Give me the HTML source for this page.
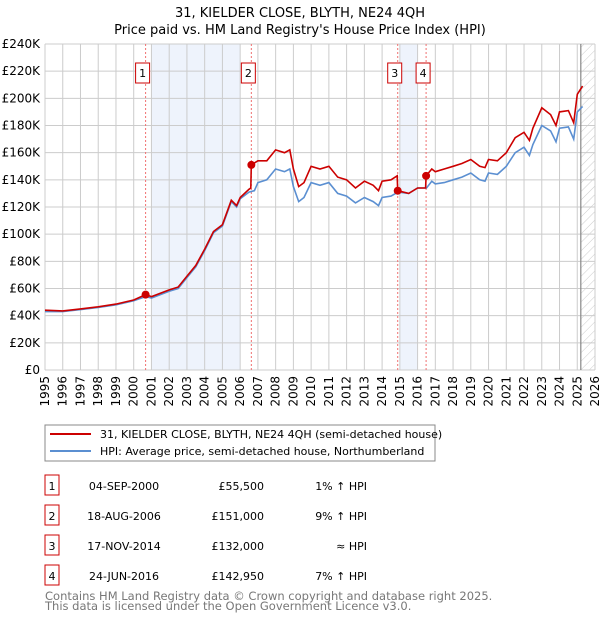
<!DOCTYPE html>
<html><head><meta charset="utf-8"><style>
body{margin:0;background:#fff;font-family:"DejaVu Sans","Liberation Sans",sans-serif;}
svg text{font-family:"DejaVu Sans","Liberation Sans",sans-serif;}
</style></head><body>
<svg id="c" width="600" height="620" xmlns="http://www.w3.org/2000/svg">
<defs><pattern id="hatch" width="6" height="6" patternUnits="userSpaceOnUse" patternTransform="rotate(45)"><line x1="0" y1="0" x2="0" y2="6" stroke="#ccc" stroke-width="1"/></pattern></defs>
<text x="300" y="17" text-anchor="middle" font-size="13">31, KIELDER CLOSE, BLYTH, NE24 4QH</text>
<text x="300" y="34" text-anchor="middle" font-size="13">Price paid vs. HM Land Registry's House Price Index (HPI)</text>
<g id="plot"></g>
<rect x="45" y="425" width="390" height="36" fill="#fff" stroke="#888"/>
<line x1="50" y1="434" x2="91" y2="434" stroke="#cc0000" stroke-width="2"/>
<text x="100" y="438" font-size="11">31, KIELDER CLOSE, BLYTH, NE24 4QH (semi-detached house)</text>
<line x1="50" y1="451" x2="91" y2="451" stroke="#5b8fd1" stroke-width="2"/>
<text x="100" y="455" font-size="11">HPI: Average price, semi-detached house, Northumberland</text>
<g id="table"></g>
<text x="45" y="600" font-size="11.5" fill="#777">Contains HM Land Registry data © Crown copyright and database right 2025.</text>
<text x="45" y="610" font-size="11.5" fill="#777">This data is licensed under the Open Government Licence v3.0.</text>
</svg>
<script>
const yTicks=[0,20,40,60,80,100,120,140,160,180,200,220,240];
const years=[1995,1996,1997,1998,1999,2000,2001,2002,2003,2004,2005,2006,2007,2008,2009,2010,2011,2012,2013,2014,2015,2016,2017,2018,2019,2020,2021,2022,2023,2024,2025,2026];
const hpiT=[1995,1996,1997,1998,1999,2000,2000.67,2001,2002,2002.5,2003,2003.5,2004,2004.5,2005,2005.5,2005.8,2006,2006.5,2006.8,2007,2007.5,2008,2008.5,2008.8,2009,2009.3,2009.6,2010,2010.5,2011,2011.5,2012,2012.5,2013,2013.5,2013.8,2014,2014.5,2014.9,2015.5,2016,2016.5,2016.8,2017,2017.5,2018,2018.5,2019,2019.5,2019.8,2020,2020.5,2021,2021.5,2022,2022.3,2022.5,2023,2023.5,2023.8,2024,2024.5,2024.8,2025,2025.3];
const hpiV=[43,43,44.5,46,48,51,54,53,58,60,68,76,88,101,106,124,120,126,131,132,138,140,148,146,148,135,124,127,138,136,138,130,128,123,127,124,121,127,128,131,130,134,134,139,137,138,140,142,145,140,139,145,144,150,160,164,158,166,180,176,168,178,179,170,190,194];
const propT=[1995,1996,1997,1998,1999,2000,2000.67,2001,2002,2002.5,2003,2003.5,2004,2004.5,2005,2005.5,2005.8,2006,2006.5,2006.6,2006.63,2007,2007.5,2008,2008.5,2008.8,2009,2009.3,2009.6,2010,2010.5,2011,2011.5,2012,2012.5,2013,2013.5,2013.8,2014,2014.5,2014.85,2014.88,2015.5,2016,2016.45,2016.48,2016.8,2017,2017.5,2018,2018.5,2019,2019.5,2019.8,2020,2020.5,2021,2021.5,2022,2022.3,2022.5,2023,2023.5,2023.8,2024,2024.5,2024.8,2025,2025.3];
const propV=[44,43.5,45,46.5,48.5,51.5,55.5,54,59,61,69,77,89,102,107,125,121,127,133,134,151,154,154,162,160,162,148,135,138,150,148,150,142,140,134,139,136,132,139,140,143,132,130,134,134,143,148,146,148,150,152,155,150,149,155,154,160,171,175,169,178,193,188,180,190,191,182,203,209];
const saleLabels=["1","2","3","4"];
const saleT=[2000.67,2006.63,2014.88,2016.48];
const saleV=[55.5,151,132,142.95];
const saleDates=["04-SEP-2000","18-AUG-2006","17-NOV-2014","24-JUN-2016"];
const salePrices=["£55,500","£151,000","£132,000","£142,950"];
const saleHpi=["1% ↑ HPI","9% ↑ HPI","≈ HPI","7% ↑ HPI"];
const shadeFrom=[2001,2015];const shadeTo=[2006,2016];
const X0=45,X1=595,Y0=370,Y1=44;
const x=t=>X0+(t-1995)/(2026-1995)*(X1-X0);
const y=v=>Y0-v/240*(Y0-Y1);
const NS="http://www.w3.org/2000/svg";
const g=document.getElementById('plot');
function mk(tag,attrs,parent){const e=document.createElementNS(NS,tag);for(const k in attrs)e.setAttribute(k,attrs[k]);(parent||g).appendChild(e);return e;}
let bg=mk('rect',{x:X0,y:Y1,width:X1-X0,height:Y0-Y1,fill:'#fff'});


shadeFrom.forEach((s,i)=>{const r=mk('rect',{x:x(s),y:Y1,width:x(shadeTo[i])-x(s),height:Y0-Y1,fill:'#eef3fc'});

});
const hx=x(2025.2);
let h=mk('rect',{x:hx,y:Y1,width:X1-hx,height:Y0-Y1,fill:'url(#hatch)'});


yTicks.forEach(v=>{const l=mk('line',{x1:X0,x2:X1,y1:y(v),y2:y(v),stroke:'#ccc','stroke-width':1});


const t=mk('text',{x:40,y:y(v)+4,'text-anchor':'end','font-size':12});t.textContent=v===0?'£0':'£'+v+'K';

});
years.forEach(yr=>{const l=mk('line',{x1:x(yr),x2:x(yr),y1:Y1,y2:Y0,stroke:'#ccc','stroke-width':1});


const t=mk('text',{x:0,y:0,'text-anchor':'end','font-size':12,transform:`translate(${x(yr)+4},376) rotate(-90)`});t.textContent=yr;

});
let vl=mk('line',{x1:hx,x2:hx,y1:Y1,y2:Y0,stroke:'#888','stroke-width':1.2});


saleT.forEach((s,i)=>{const l=mk('line',{x1:x(s),x2:x(s),y1:Y1,y2:Y0,stroke:'#f07070','stroke-width':1,'stroke-dasharray':'2,2'});


const cx=x(s)-3;
const b=mk('rect',{x:cx-7,y:63,width:14,height:20,fill:'#fff',stroke:'#cc0000'});


const t=mk('text',{x:cx,y:77,'text-anchor':'middle','font-size':11});t.textContent=saleLabels[i];

});
function line(T,V,col,name){const p=mk('path',{d:T.map((t,i)=>(i?'L':'M')+x(t).toFixed(1)+','+y(V[i]).toFixed(1)).join(''),fill:'none',stroke:col,'stroke-width':1.6});

}
line(hpiT,hpiV,'#5b8fd1','hpi-line');
line(propT,propV,'#cc0000','property-line');
saleT.forEach((s,i)=>{const c=mk('circle',{cx:x(s),cy:y(saleV[i]),r:4,fill:'#cc0000'});

});
const tb=document.getElementById('table');
saleLabels.forEach((lab,i)=>{const ry=476+i*30;
const b=mk('rect',{x:45,y:ry-1,width:14,height:20,fill:'#fff',stroke:'#cc0000'},tb);


const cols=[[52,'middle',lab,'row-number'],[124,'middle',saleDates[i],'row-date'],[264,'end',salePrices[i],'row-price'],[367,'end',saleHpi[i],'row-hpi']];
cols.forEach(c=>{const t=mk('text',{x:c[0],y:ry+14,'text-anchor':c[1],'font-size':11},tb);t.textContent=c[2];

});});
</script>
</body></html>
